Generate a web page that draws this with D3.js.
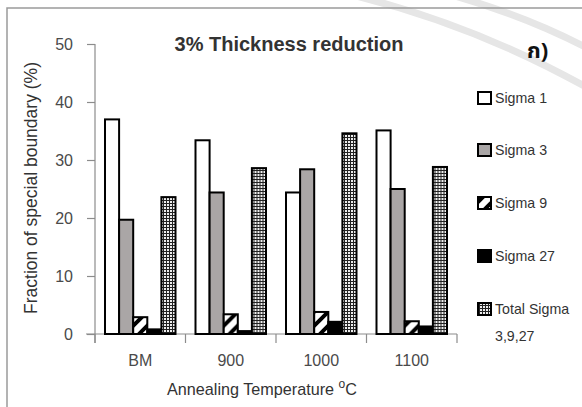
<!DOCTYPE html>
<html><head><meta charset="utf-8">
<script src="https://cdn.jsdelivr.net/npm/d3@7"></script>
<style>body{margin:0;background:#fff}svg{display:block}</style>
</head><body>
<svg id="c" width="582" height="407"></svg>
<script>
const categories = ["BM","900","1000","1100"];
const seriesNames = ["Sigma 1","Sigma 3","Sigma 9","Sigma 27","Total Sigma"];
const sigma1 = [37.0, 33.4, 24.4, 35.1];
const sigma3 = [19.7, 24.4, 28.4, 25.0];
const sigma9 = [2.9, 3.4, 3.8, 2.2];
const sigma27 = [0.8, 0.5, 2.1, 1.3];
const totalSigma = [23.6, 28.6, 34.6, 28.8];
const yTicks = [0,10,20,30,40,50];
const seriesValues = [sigma1, sigma3, sigma9, sigma27, totalSigma];

const svg = d3.select("#c");
const font = "'Liberation Sans', Arial, sans-serif";
const defs = svg.append("defs");
// wide upward diagonal
const p9 = defs.append("pattern").attr("id","p9").attr("patternUnits","userSpaceOnUse")
  .attr("width",14).attr("height",14);
p9.append("rect").attr("width",14).attr("height",14).attr("fill","#fff");
p9.append("path").attr("d","M-2,16 L16,-2 M-9,9 L9,-9 M5,23 L23,5").attr("stroke","#000").attr("stroke-width",4);
// dotted grid
const pt = defs.append("pattern").attr("id","pt").attr("patternUnits","userSpaceOnUse")
  .attr("width",3).attr("height",3);
pt.append("rect").attr("width",3).attr("height",3).attr("fill","#222");
pt.append("rect").attr("width",2).attr("height",2).attr("fill","#eee");

const fills = ["#ffffff","#aaa6a6","url(#p9)","#000000","url(#pt)"];

// faint watermark arcs
const wm = svg.append("g").attr("fill","none").attr("stroke","#e6e6e6").attr("stroke-width",7);
wm.append("path").attr("d","M330,-10 Q470,20 600,95");
wm.append("path").attr("d","M390,-20 Q510,5 600,55");

// frame
svg.append("path").attr("d","M7,407 L7,8 L582,8").attr("fill","none").attr("stroke","#9a9a9a").attr("stroke-width",1.5);

const x = d3.scaleBand().domain(categories).range([95,457]).paddingInner(0).paddingOuter(0);
const xi = d3.scaleBand().domain(seriesNames).range([10, x.bandwidth()-10]).padding(0);
const y = d3.scaleLinear().domain([0,50]).range([334,44]);

// axes
const yAxis = svg.append("g").attr("transform","translate(95,0)")
  .call(d3.axisLeft(y).tickValues(yTicks).tickSize(8).tickPadding(14));
yAxis.select(".domain").attr("d","M0,44V343");
const xAxis = svg.append("g").attr("transform","translate(0,334)")
  .call(d3.axisBottom(x).tickSize(0).tickPadding(30));
xAxis.select(".domain").attr("d","M86,0H457");
// boundary ticks
const bounds = categories.map(c=>x(c)).concat([x(categories[categories.length-1])+x.bandwidth()]);
xAxis.selectAll(".btick").data(bounds).join("line").attr("class","btick")
  .attr("x1",d=>d).attr("x2",d=>d).attr("y1",0).attr("y2",9);
[yAxis, xAxis].forEach(a=>{
  a.selectAll(".domain, line").attr("stroke","#8c8c8c").attr("stroke-width",1.2);
  a.selectAll("text").attr("font-family",font).attr("font-size",16).attr("fill","#4a4a4a");
});
xAxis.selectAll(".tick text").attr("dy","0.1em");

// bars
const groups = svg.append("g").selectAll("g").data(categories).join("g")
  .attr("transform",d=>`translate(${x(d)},0)`);
groups.selectAll("rect").data((c,ci)=>seriesNames.map((s,si)=>({s,si,v:seriesValues[si][ci]})))
  .join("rect")
  .attr("x",d=>xi(d.s)).attr("width",xi.bandwidth())
  .attr("y",d=>y(d.v)).attr("height",d=>y(0)-y(d.v))
  .attr("fill",d=>fills[d.si]).attr("stroke","#000").attr("stroke-width",2);

// title
svg.append("text").attr("x",289).attr("y",51).attr("text-anchor","middle")
  .attr("font-family",font).attr("font-weight","bold").attr("font-size",20).attr("fill","#333")
  .text("3% Thickness reduction");
svg.append("text").attr("x",527).attr("y",58)
  .attr("font-family","'Noto Sans Thai','Noto Sans','DejaVu Sans',sans-serif").attr("font-weight","bold").attr("font-size",22).attr("fill","#111")
  .text("ก)");

// y label
svg.append("text").attr("transform","translate(37,188) rotate(-90)").attr("text-anchor","middle")
  .attr("font-family",font).attr("font-size",17.5).attr("fill","#333")
  .text("Fraction of special boundary (%)");
// x label
const xl = svg.append("text").attr("x",167).attr("y",395)
  .attr("font-family",font).attr("font-size",16.2).attr("fill","#333");
xl.append("tspan").text("Annealing Temperature ");
xl.append("tspan").attr("font-size",12).attr("dy",-7).text("o");
xl.append("tspan").attr("dy",7).text("C");

// legend
const legY = [98,150,203,256,309];
const leg = svg.append("g").selectAll("g").data(seriesNames).join("g")
  .attr("transform",(d,i)=>`translate(477,${legY[i]})`);
leg.append("rect").attr("x",1).attr("y",-6).attr("width",13).attr("height",12)
  .attr("fill",(d,i)=>fills[i]).attr("stroke","#000").attr("stroke-width",2);
leg.append("text").attr("x",18).attr("y",5)
  .attr("font-family",font).attr("font-size",14.2).attr("fill","#333").text(d=>d);
svg.append("text").attr("x",495).attr("y",341)
  .attr("font-family",font).attr("font-size",14.2).attr("fill","#333").text("3,9,27");
</script>
</body></html>
